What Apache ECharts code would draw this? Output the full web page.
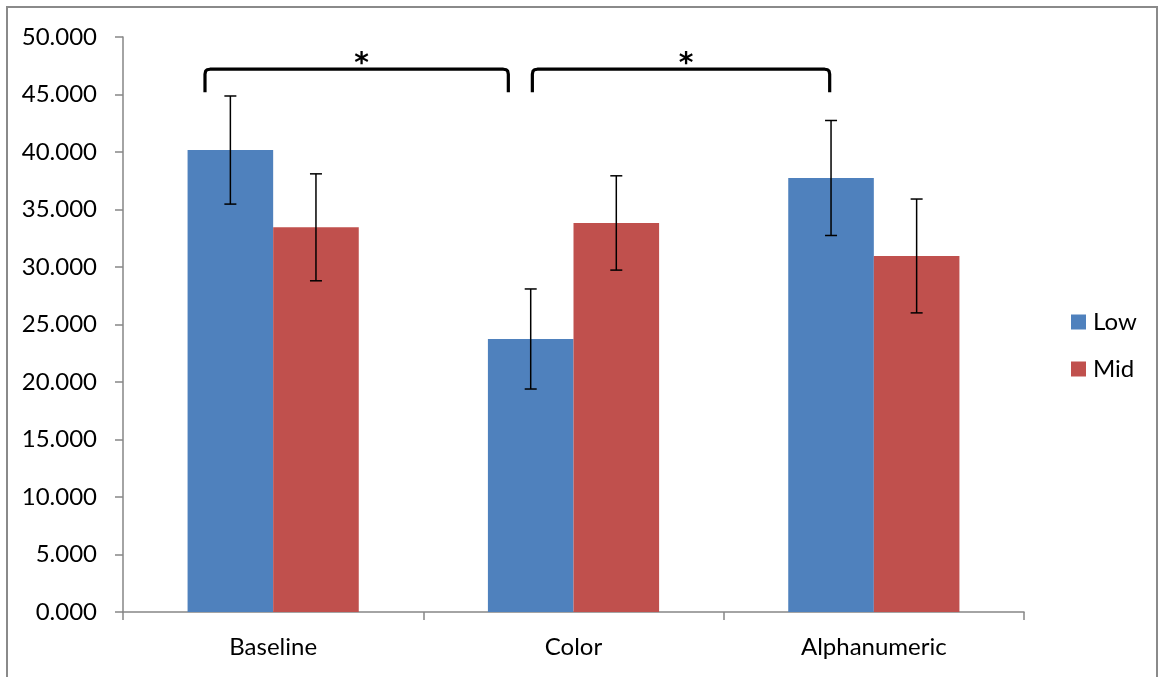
<!DOCTYPE html>
<html>
<head>
<meta charset="utf-8">
<script src="https://cdn.jsdelivr.net/npm/echarts@6/dist/echarts.min.js"></script>
<style>
html,body{margin:0;padding:0;background:#fff;}
#chart{width:1161px;height:677px;}
</style>
</head>
<body>
<div id="chart"></div>
<script>
// ---- data ----
const categories = ['Baseline', 'Color', 'Alphanumeric'];
const seriesNames = ['Low', 'Mid'];
const lowValues = [40.17, 23.74, 37.74];
const midValues = [33.45, 33.83, 30.96];
const lowErrors = [4.70, 4.35, 5.00];
const midErrors = [4.65, 4.10, 4.95];
// significance brackets: [startCategory, startOffset, endCategory, endOffset, topValue, bottomValue]
const bracketSpans = [
  [0, -0.227, 1, -0.217, 47.2, 45.2],
  [1, -0.137, 2, -0.147, 47.2, 45.2]
];
const bracketLabels = ['*', '*'];
const yTicks = { min: 0, max: 50, interval: 5 };

const FONT = 'Lato';
const colors = ['#4F81BD', '#C0504D'];
const barWidthFrac = 0.285;

function errorRenderer(offsetSign) {
  return function (params, api) {
    const idx = api.value(0), v = api.value(1), e = api.value(2);
    const band = api.size([1, 0])[0];
    const x = api.coord([idx, v])[0] + offsetSign * band * barWidthFrac / 2;
    const yHi = api.coord([idx, v + e])[1];
    const yLo = api.coord([idx, v - e])[1];
    const cap = 6;
    const style = { stroke: '#000', lineWidth: 1.5 };
    return {
      type: 'group',
      children: [
        { type: 'line', shape: { x1: x, y1: yHi, x2: x, y2: yLo }, style },
        { type: 'line', shape: { x1: x - cap, y1: yHi, x2: x + cap, y2: yHi }, style },
        { type: 'line', shape: { x1: x - cap, y1: yLo, x2: x + cap, y2: yLo }, style }
      ]
    };
  };
}

function bracketRenderer(params, api) {
  const i0 = api.value(0), o0 = api.value(1), i1 = api.value(2), o1 = api.value(3);
  const top = api.value(4), bot = api.value(5);
  const band = api.size([1, 0])[0];
  const x0 = api.coord([i0, top])[0] + o0 * band;
  const x1 = api.coord([i1, top])[0] + o1 * band;
  const yt = api.coord([i0, top])[1];
  const yb = api.coord([i0, bot])[1];
  const r = 5;
  const pts = [[x0, yb], [x0, yt + r], [x0 + 0.6, yt + 2], [x0 + 2, yt + 0.6], [x0 + r, yt],
               [x1 - r, yt], [x1 - 2, yt + 0.6], [x1 - 0.6, yt + 2], [x1, yt + r], [x1, yb]];
  return {
    type: 'group',
    children: [
      { type: 'polyline', shape: { points: pts }, style: { stroke: '#000', lineWidth: 3.2, fill: null, lineJoin: 'round' } },
      { type: 'text', x: (x0 + x1) / 2 + 5, y: yt - 4,
        style: { text: bracketLabels[params.dataIndex], fill: '#000', font: 'bold 28px "DejaVu Sans"', align: 'center', verticalAlign: 'middle' } }
    ]
  };
}

const chart = echarts.init(document.getElementById('chart'), null, { renderer: 'canvas' });
chart.setOption({
  animation: false,
  backgroundColor: '#fff',
  color: colors,
  graphic: [{
    type: 'rect', shape: { x: 7, y: 7, width: 1150, height: 720 },
    style: { fill: null, stroke: '#8a8a8a', lineWidth: 2 }, z: -1
  }],
  grid: { left: 123, right: 137, top: 37, bottom: 65, containLabel: false },
  legend: {
    data: seriesNames, orient: 'vertical', left: 1066, top: 305,
    itemWidth: 15, itemHeight: 15, itemGap: 23, icon: 'rect',
    textStyle: { fontFamily: FONT, fontSize: 24, color: '#000', padding: [0, 0, 0, 2] }
  },
  xAxis: {
    type: 'category', data: categories,
    axisLine: { lineStyle: { color: '#868686', width: 1.5 } },
    axisTick: { show: true, length: 8, lineStyle: { color: '#868686', width: 1.5 } },
    axisLabel: { color: '#000', fontFamily: FONT, fontSize: 24, margin: 23 },
    splitLine: { show: false }
  },
  yAxis: {
    type: 'value', min: yTicks.min, max: yTicks.max, interval: yTicks.interval,
    axisLine: { show: true, lineStyle: { color: '#868686', width: 1.5 } },
    axisTick: { show: true, length: 8, lineStyle: { color: '#868686', width: 1.5 } },
    axisLabel: { color: '#000', fontFamily: FONT, fontSize: 24, margin: 26, formatter: v => v.toFixed(3) },
    splitLine: { show: false }
  },
  series: [
    { name: 'Low', type: 'bar', data: lowValues, barWidth: (barWidthFrac * 100) + '%', barGap: '0%', itemStyle: { color: colors[0] } },
    { name: 'Mid', type: 'bar', data: midValues, barWidth: (barWidthFrac * 100) + '%', barGap: '0%', itemStyle: { color: colors[1] } },
    { name: 'LowErr', type: 'custom', renderItem: errorRenderer(-1), z: 5,
      data: lowValues.map((v, i) => [i, v, lowErrors[i]]), encode: { x: 0, y: 1 } },
    { name: 'MidErr', type: 'custom', renderItem: errorRenderer(1), z: 5,
      data: midValues.map((v, i) => [i, v, midErrors[i]]), encode: { x: 0, y: 1 } },
    { name: 'Brackets', type: 'custom', renderItem: bracketRenderer, z: 6,
      data: bracketSpans, encode: { x: 0, y: 4 } }
  ]
});
</script>
</body>
</html>
